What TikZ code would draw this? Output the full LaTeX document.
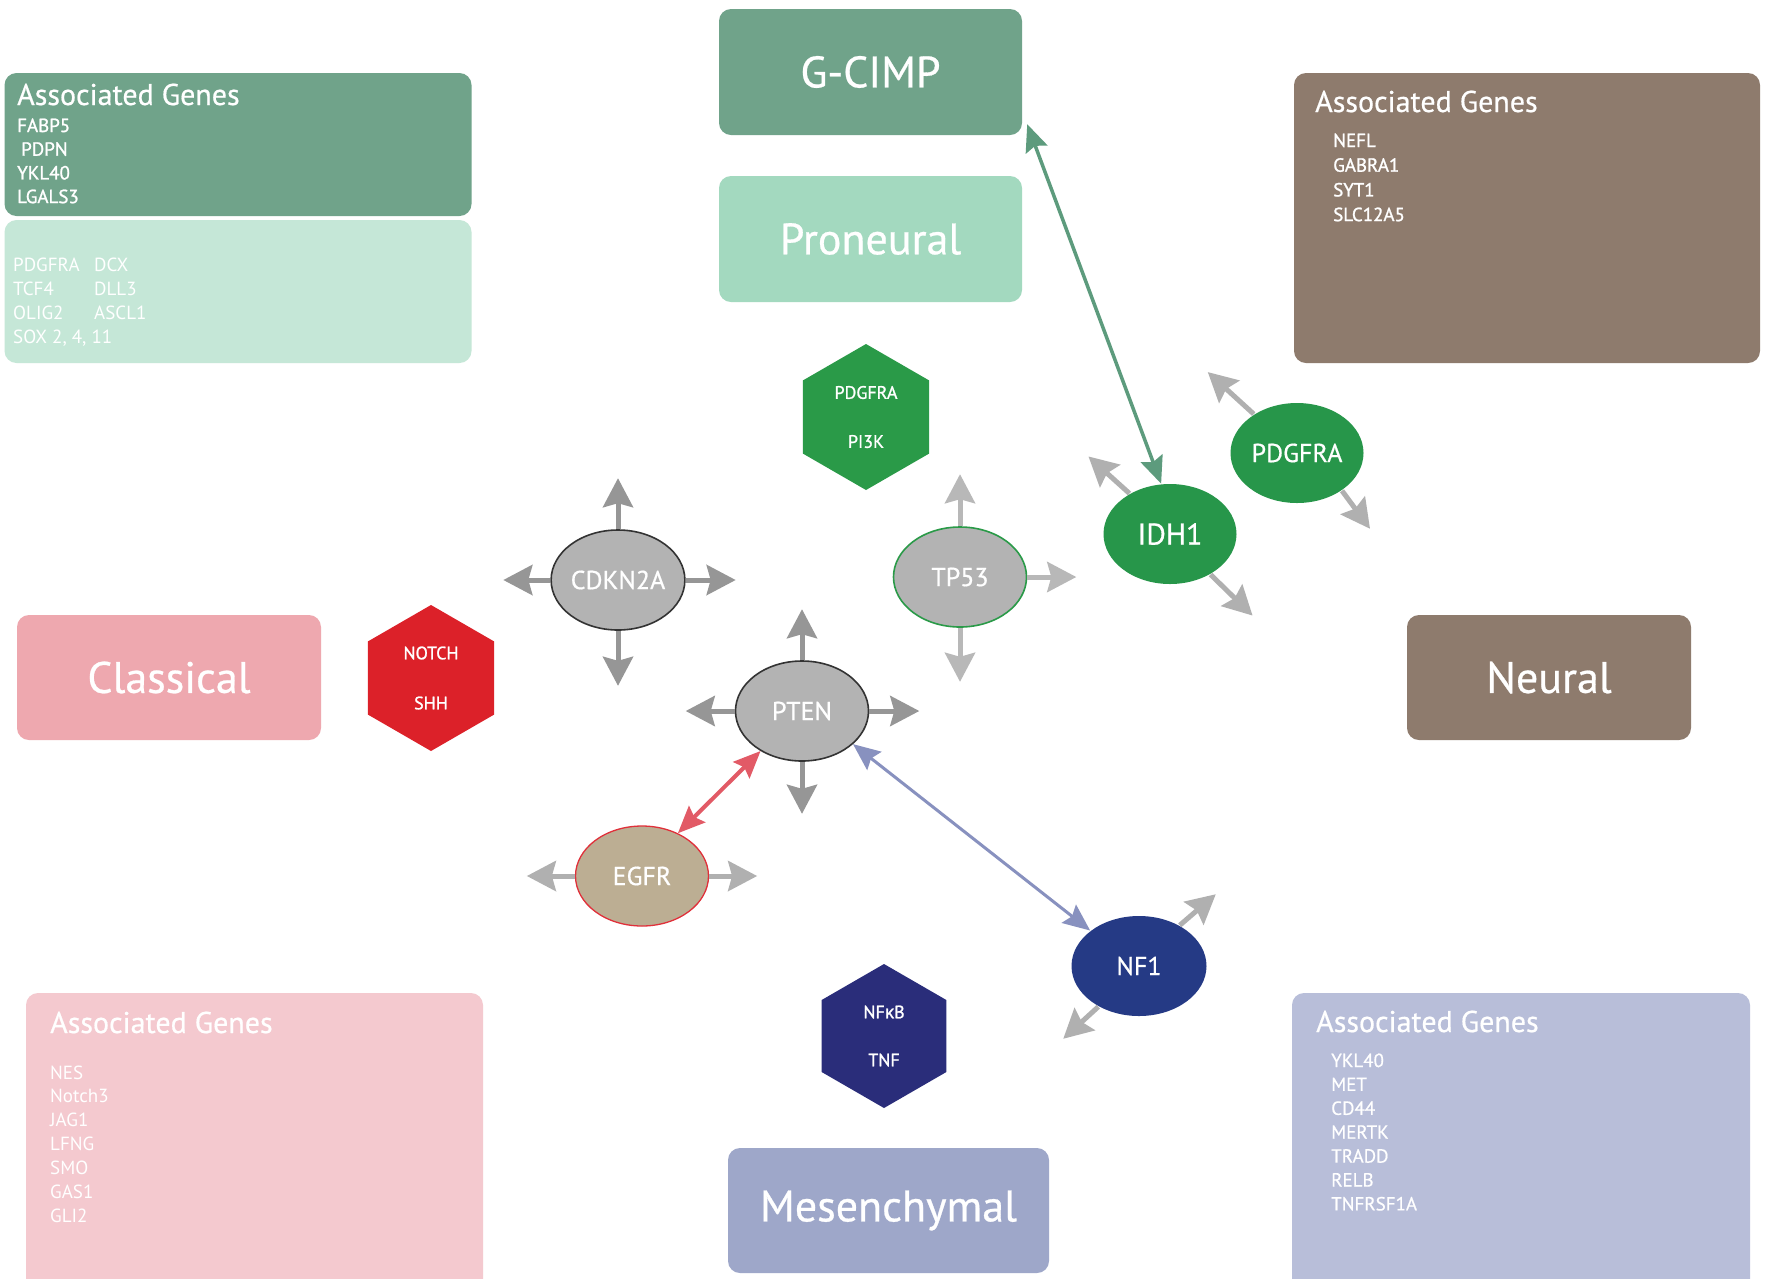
\documentclass[tikz,border=0pt]{standalone}
\usepackage{fontspec}
\setmainfont{PT Sans}
\newfontfamily\semib[FakeBold=1.2]{PT Sans}
\newfontfamily\medw[FakeBold=0.6]{PT Sans}
\newfontfamily\grkfont[FakeBold=1.2]{Open Sans}
\usetikzlibrary{arrows.meta,shapes.geometric}
\definecolor{gcimpC}{HTML}{70A38A}
\definecolor{proC}{HTML}{A3D9BF}
\definecolor{proL}{HTML}{C5E7D7}
\definecolor{neuC}{HTML}{8E7B6D}
\definecolor{claC}{HTML}{EEA8AF}
\definecolor{claL}{HTML}{F4C9CF}
\definecolor{mesC}{HTML}{9EA7C9}
\definecolor{mesL}{HTML}{B8BED9}
\definecolor{hexG}{HTML}{2A9A48}
\definecolor{ovG}{HTML}{27964A}
\definecolor{hexR}{HTML}{DC2129}
\definecolor{hexN}{HTML}{2A2D7A}
\definecolor{nfC}{HTML}{253A85}
\definecolor{ovGray}{HTML}{B3B3B3}
\definecolor{egfrC}{HTML}{BCAE93}
\definecolor{egfrL}{HTML}{E0303A}
\definecolor{arrGray}{HTML}{B0B0B0}
\definecolor{arrGreen}{HTML}{5D9B7D}
\definecolor{arrRed}{HTML}{E25A66}
\definecolor{arrBlue}{HTML}{8891BF}
\begin{document}
\begin{tikzpicture}[x=1pt,y=-1pt,
  bigbox/.style={rectangle,rounded corners=12pt,inner sep=0pt,text=white,
    minimum height=126pt,font=\medw\fontsize{44}{50}\selectfont},
  genebox/.style={rectangle,rounded corners=12pt,inner sep=0pt},
  gtitle/.style={anchor=base west,inner sep=0pt,text=white,font=\medw\fontsize{30}{34}\selectfont},
  gene/.style={anchor=base west,inner sep=0pt,text=white,font=\fontsize{19}{22}\selectfont},
  bgene/.style={gene,font=\semib\fontsize{19}{22}\selectfont},
  oval/.style={ellipse,minimum width=133pt,minimum height=100pt,inner sep=0pt,
    line width=1.6pt,text=white,font=\medw\fontsize{26}{30}\selectfont},
  hexa/.style={regular polygon,regular polygon sides=6,regular polygon rotate=30,
    minimum size=146pt,inner sep=0pt,align=center,text=white,
    font=\semib\fontsize{18}{20}\selectfont},
  grayarr/.style={line width=5pt,arrGray,-{Stealth[length=29pt,width=30pt,inset=4pt]}},
  colarr/.style={line width=3.5pt,{Stealth[length=27pt,width=23pt,inset=4pt]}-{Stealth[length=27pt,width=23pt,inset=4pt]}}
]
\clip (0,0) rectangle (1766,1278);
\fill[white] (0,0) rectangle (1766,1278);

% associated gene boxes
\node[genebox,fill=gcimpC,minimum width=467pt,minimum height=143pt] (tlbox) at (238,144.5) {};
\node[genebox,fill=proL,minimum width=467pt,minimum height=143pt] (tlbox2) at (238,291.5) {};
\node[genebox,fill=neuC,minimum width=466pt,minimum height=290pt] (trbox) at (1527,218) {};
\node[genebox,fill=claL,minimum width=457pt,minimum height=307pt] (blbox) at (254.5,1146.5) {};
\node[genebox,fill=mesL,minimum width=458pt,minimum height=307pt] (brbox) at (1521,1146.5) {};

\node[gtitle] (tltitle) at (17,105) {Associated Genes};
\foreach \g [count=\i] in {FABP5,\hspace{4pt}PDPN,YKL40,LGALS3}
  \node[bgene] (tlg\i) at (17,{132+23.7*(\i-1)}) {\g};
\foreach \g [count=\i] in {PDGFRA,TCF4,OLIG2,{SOX 2, 4, 11}}
  \node[gene] (tlp\i) at (13,{271+24*(\i-1)}) {\g};
\foreach \g [count=\i] in {DCX,DLL3,ASCL1}
  \node[gene] (tlq\i) at (94,{271+24*(\i-1)}) {\g};

\node[gtitle] (trtitle) at (1315,112) {Associated Genes};
\foreach \g [count=\i] in {NEFL,GABRA1,SYT1,SLC12A5}
  \node[bgene] (trg\i) at (1333,{147+24.7*(\i-1)}) {\g};

\node[gtitle] (bltitle) at (50,1033) {Associated Genes};
\foreach \g [count=\i] in {NES,Notch3,JAG1,LFNG,SMO,GAS1,GLI2}
  \node[gene] (blg\i) at (50,{1079+23.9*(\i-1)}) {\g};

\node[gtitle] (brtitle) at (1316,1032) {Associated Genes};
\foreach \g [count=\i] in {YKL40,MET,CD44,MERTK,TRADD,RELB,TNFRSF1A}
  \node[gene,font=\medw\fontsize{19}{22}\selectfont] (brg\i) at (1331,{1067+23.9*(\i-1)}) {\g};

% subtype boxes
\node[bigbox,fill=gcimpC,minimum width=303pt] (gcimp) at (870.5,72) {G-CIMP};
\node[bigbox,fill=proC,minimum width=303pt] (prone) at (870.5,239) {Proneural};
\node[bigbox,fill=claC,minimum width=304pt,minimum height=125pt] (class) at (169,677.5) {Classical};
\node[bigbox,fill=neuC,minimum width=284pt,minimum height=125pt] (neural) at (1549,677.5) {Neural};
\node[bigbox,fill=mesC,minimum width=321pt,minimum height=125pt] (mesen) at (888.5,1210.5) {Mesenchymal};

% hexagons
\node[hexa,fill=hexG] (pdgfhex) at (866,417) {PDGFRA\\[29pt]PI3K};
\node[hexa,fill=hexR] (notch) at (431,678) {NOTCH\\[30pt]SHH};
\node[hexa,fill=hexN,minimum size=144pt] (nfkb) at (884,1036) {NF{\grkfont κ}B\\[28pt]TNF};

% ovals
\node[oval,fill=ovGray,draw=black!80] (cdkn) at (618,580) {CDKN2A};
\node[oval,fill=ovGray,draw=hexG] (tp53) at (960,577) {TP53};
\node[oval,fill=ovGray,draw=black!80] (pten) at (802,711) {PTEN};
\node[oval,fill=egfrC,draw=egfrL,line width=1.3pt] (egfr) at (642,876) {EGFR};
\node[oval,fill=ovG,font=\medw\fontsize{30}{34}\selectfont] (idh1) at (1170,534) {IDH1};
\node[oval,fill=ovG] (pdgfov) at (1297,453) {PDGFRA};
\node[oval,fill=nfC,minimum width=135pt] (nf1) at (1139,966) {NF1};

% gray arrows
\draw[grayarr,arrGray!85!black] (cdkn.north) -- ++(0,-51);
\draw[grayarr,arrGray!85!black] (cdkn.south) -- ++(0,55);
\draw[grayarr,arrGray!85!black] (cdkn.west) -- ++(-47,0);
\draw[grayarr,arrGray!85!black] (cdkn.east) -- ++(50,0);
\draw[grayarr,arrGray!90] (tp53.north) -- ++(0,-52);
\draw[grayarr,arrGray!90] (tp53.south) -- ++(0,54);
\draw[grayarr,arrGray!90] (tp53.east) -- ++(49,0);
\draw[grayarr,arrGray!85!black] (pten.north) -- ++(0,-51);
\draw[grayarr,arrGray!85!black] (pten.south) -- ++(0,52);
\draw[grayarr,arrGray!85!black] (pten.west) -- ++(-49,0);
\draw[grayarr,arrGray!85!black] (pten.east) -- ++(50,0);
\draw[grayarr] (egfr.west) -- ++(-48,0);
\draw[grayarr] (egfr.east) -- ++(48,0);
\draw[grayarr] (idh1.135) -- ++(-41,-37);
\draw[grayarr] (idh1.-45) -- ++(42,41);
\draw[grayarr] (pdgfov.138) -- ++(-46,-42);
\draw[grayarr] (pdgfov.-40) -- ++(28,38);
\draw[grayarr] (nf1.45) -- ++(36,-31);
\draw[grayarr] (nf1.225) -- ++(-35,32);

% coloured double arrows
\draw[colarr,arrGreen] ([xshift=5pt,yshift=11pt]gcimp.south east) -- (idh1.100);
\draw[colarr,arrRed,line width=4pt] (pten.224) -- (egfr.50);
\draw[colarr,arrBlue,line width=3pt] (pten.-33) -- (nf1.144);
\end{tikzpicture}
\end{document}
